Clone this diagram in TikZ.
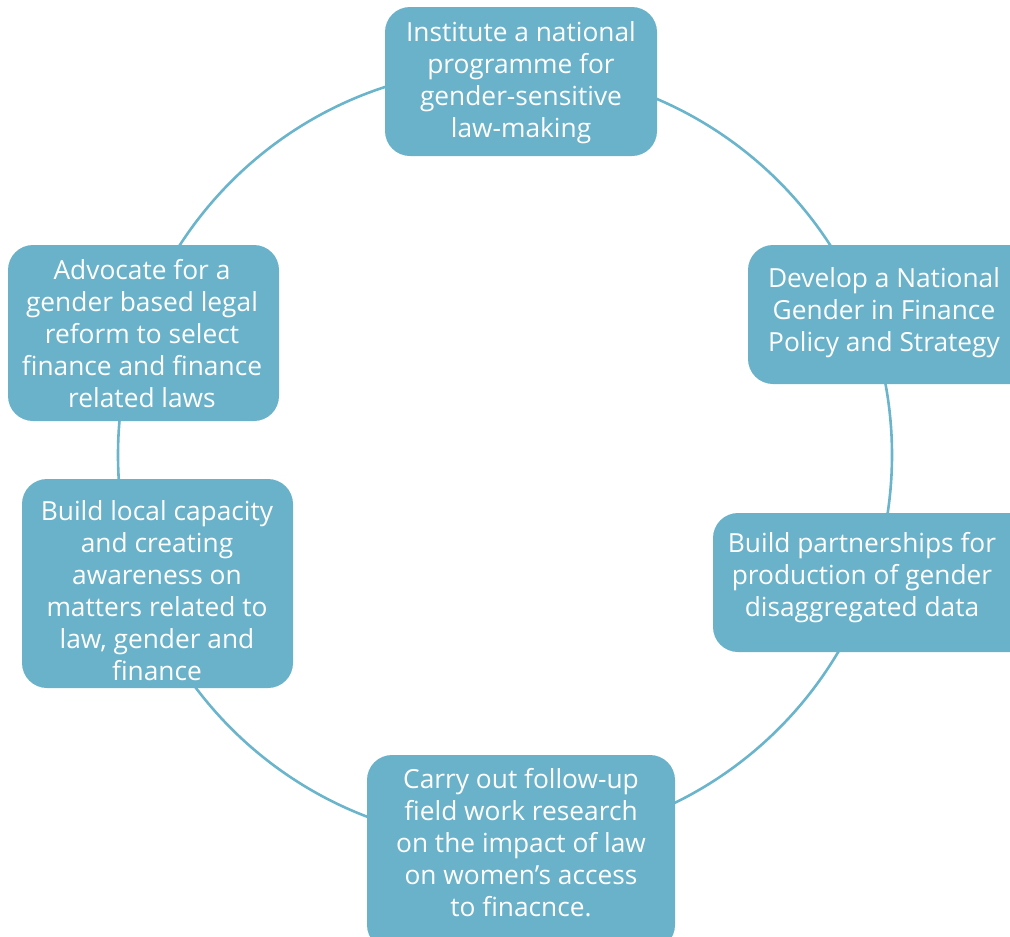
\documentclass[tikz,border=0pt]{standalone}
\usepackage{fontspec}
\setmainfont[Ligatures=NoCommon]{Open Sans}
\definecolor{boxfill}{HTML}{6AB2CA}
\definecolor{ring}{HTML}{6AB4CC}
\begin{document}
\begin{tikzpicture}[x=1pt,y=-1pt,
  stepbox/.style={draw=none, fill=boxfill, rounded corners=25pt, inner sep=0pt},
  label/.style={text=white, align=center, font=\fontsize{26.3}{32}\selectfont, inner sep=0pt}]
\useasboundingbox (0,0) rectangle (1010,937);
\clip (0,0) rectangle (1010,937);
\draw[ring, line width=2.6pt] (505,455) circle[radius=387];
\fill[stepbox] (385,7) rectangle (657,156);
\fill[stepbox] (748,245) rectangle (1035,384);
\fill[stepbox] (713,513) rectangle (1035,652);
\fill[stepbox] (367,755) rectangle (675,950);
\fill[stepbox] (22,479) rectangle (293,688);
\fill[stepbox] (8,245) rectangle (279,421);
\node[label] (n1) at (521,83) {Institute a national\\programme for\\gender-sensitive\\law-making};
\node[label] (n2) at (884,313) {Develop a National\\Gender in Finance\\Policy and Strategy};
\node[label] (n3) at (862,578) {Build partnerships for\\production of gender\\disaggregated data};
\node[label] (n4) at (521,843) {Carry out follow-up\\field work research\\on the impact of law\\on women’s access\\to finacnce.};
\node[label] (n5) at (157,591) {Build local capacity\\and creating\\awareness on\\matters related to\\law, gender and\\finance};
\node[label] (n6) at (142,334) {Advocate for a\\gender based legal\\reform to select\\finance and finance\\related laws};
\end{tikzpicture}
\end{document}
